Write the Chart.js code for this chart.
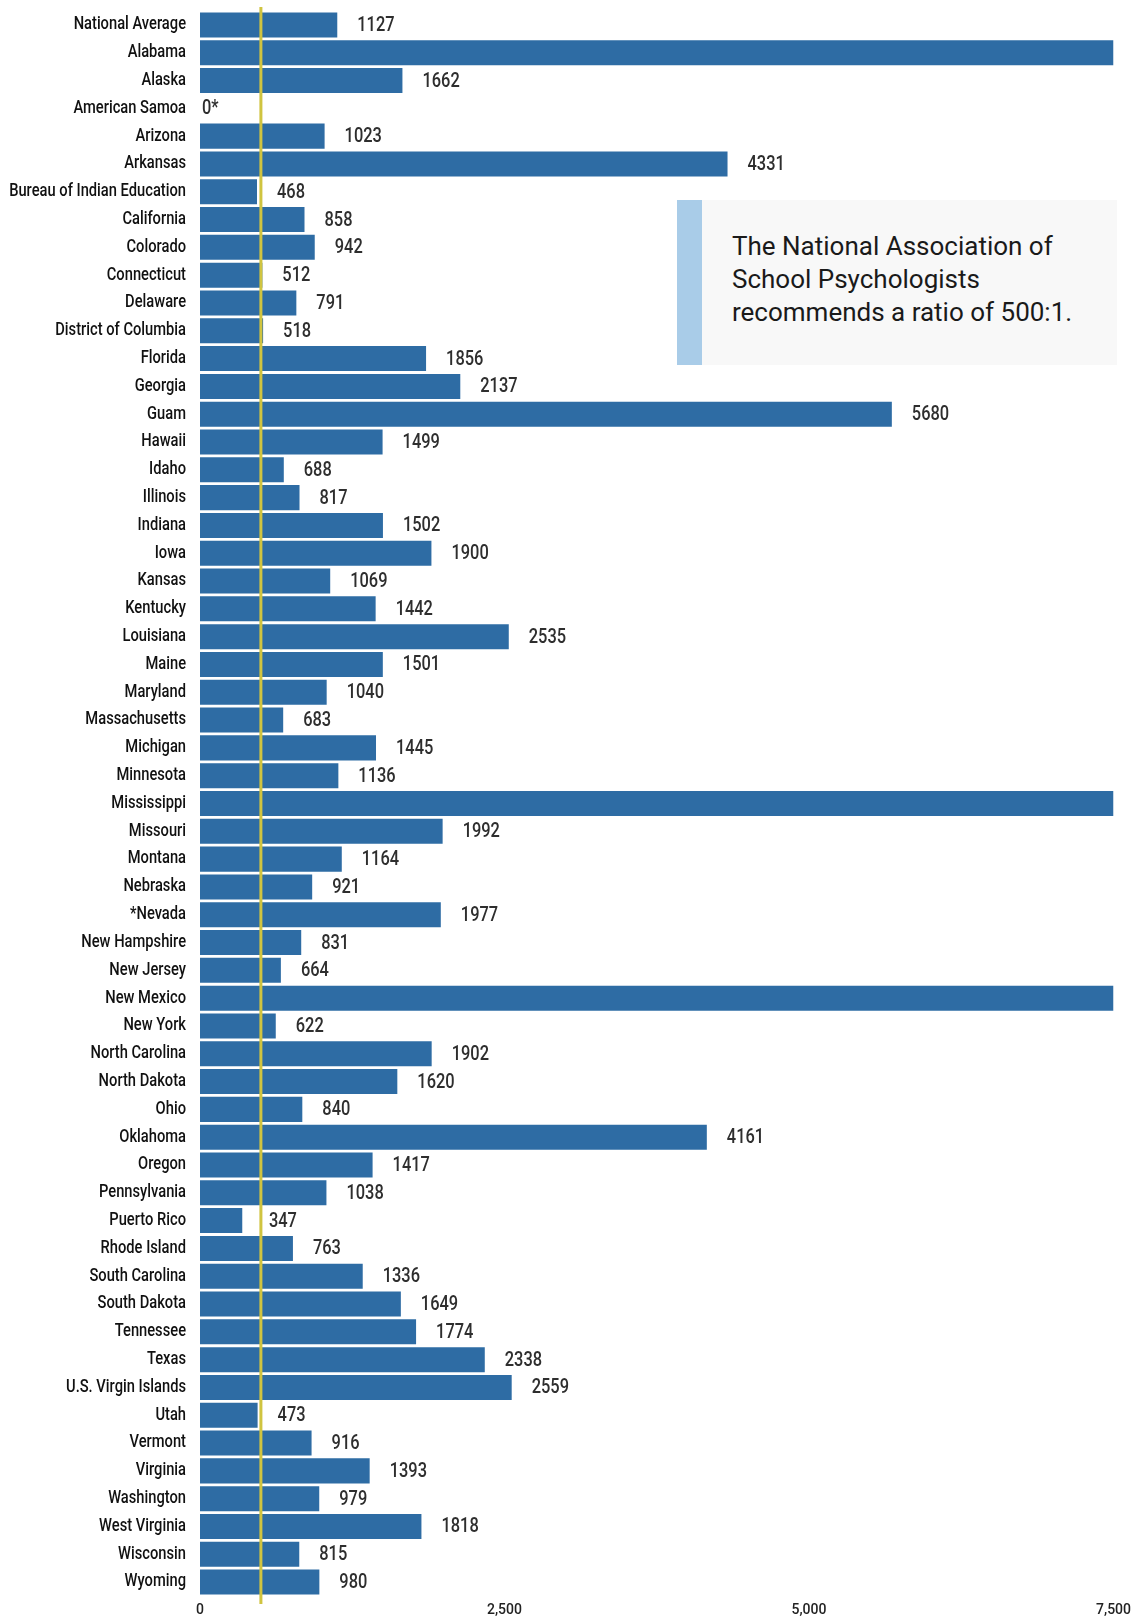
<!DOCTYPE html>
<html>
<head>
<meta charset="utf-8">
<script src="https://cdn.jsdelivr.net/npm/chart.js@4/dist/chart.umd.min.js"></script>
<style>
  body { margin: 0; background: #fff; }
  #wrap { position: relative; width: 1137px; height: 1619px; }
  #note {
    position: absolute; left: 677px; top: 200px; width: 440px; height: 165px;
    background: #f8f8f8; border-left: 25px solid #a9cce8; box-sizing: border-box;
    padding: 30px 0 0 30px;
    font-family: Roboto, "Noto Sans", sans-serif; font-size: 26px; line-height: 33px; color: #1a1a1a;
  }
</style>
</head>
<body>
<div id="wrap">
  <canvas id="chart" width="1137" height="1619"></canvas>
  <div id="note">The National Association of<br>School Psychologists<br>recommends a ratio of 500:1.</div>
</div>
<script>
// Data
const states = [
  'National Average', 'Alabama', 'Alaska', 'American Samoa', 'Arizona', 'Arkansas',
  'Bureau of Indian Education', 'California', 'Colorado', 'Connecticut', 'Delaware',
  'District of Columbia', 'Florida', 'Georgia', 'Guam', 'Hawaii', 'Idaho', 'Illinois',
  'Indiana', 'Iowa', 'Kansas', 'Kentucky', 'Louisiana', 'Maine', 'Maryland',
  'Massachusetts', 'Michigan', 'Minnesota', 'Mississippi', 'Missouri', 'Montana',
  'Nebraska', '*Nevada', 'New Hampshire', 'New Jersey', 'New Mexico', 'New York',
  'North Carolina', 'North Dakota', 'Ohio', 'Oklahoma', 'Oregon', 'Pennsylvania',
  'Puerto Rico', 'Rhode Island', 'South Carolina', 'South Dakota', 'Tennessee', 'Texas',
  'U.S. Virgin Islands', 'Utah', 'Vermont', 'Virginia', 'Washington', 'West Virginia',
  'Wisconsin', 'Wyoming'
];

// students per school psychologist (off-scale bars run to the axis end)
const ratios = [
  1127, 7500, 1662, 0, 1023, 4331,
  468, 858, 942, 512, 791,
  518, 1856, 2137, 5680, 1499, 688, 817,
  1502, 1900, 1069, 1442, 2535, 1501, 1040,
  683, 1445, 1136, 7500, 1992, 1164,
  921, 1977, 831, 664, 7500, 622,
  1902, 1620, 840, 4161, 1417, 1038,
  347, 763, 1336, 1649, 1774, 2338,
  2559, 473, 916, 1393, 979, 1818,
  815, 980
];

// text shown next to each bar ('' = no label)
const ratioLabels = [
  '1127', '', '1662', '0*', '1023', '4331',
  '468', '858', '942', '512', '791',
  '518', '1856', '2137', '5680', '1499', '688', '817',
  '1502', '1900', '1069', '1442', '2535', '1501', '1040',
  '683', '1445', '1136', '', '1992', '1164',
  '921', '1977', '831', '664', '', '622',
  '1902', '1620', '840', '4161', '1417', '1038',
  '347', '763', '1336', '1649', '1774', '2338',
  '2559', '473', '916', '1393', '979', '1818',
  '815', '980'
];

const xTicks = [0, 2500, 5000, 7500];
const recommended = 500;

const baseFont = 'Roboto, "Noto Sans", sans-serif';

// fake a condensed face by squeezing the text horizontally
function drawNarrow(ctx, text, x, y, align, squeeze) {
  ctx.save();
  ctx.textAlign = align;
  ctx.scale(squeeze, 1);
  ctx.fillText(text, x / squeeze, y);
  ctx.restore();
}

// State names on the left
const stateLabels = {
  id: 'stateLabels',
  afterDraw(chart) {
    const ctx = chart.ctx;
    const yScale = chart.scales.y;
    const right = chart.chartArea.left - 14;
    ctx.save();
    ctx.font = '500 17.5px ' + baseFont;
    ctx.fillStyle = '#111';
    ctx.textBaseline = 'middle';
    states.forEach((name, i) => {
      drawNarrow(ctx, name, right, yScale.getPixelForTick(i), 'right', 0.84);
    });
    ctx.restore();
  }
};

// Draws the value next to each bar
const valueLabels = {
  id: 'valueLabels',
  afterDatasetsDraw(chart) {
    const ctx = chart.ctx;
    const meta = chart.getDatasetMeta(0);
    const zero = chart.scales.x.getPixelForValue(0);
    const lineX = chart.scales.x.getPixelForValue(recommended);
    ctx.save();
    ctx.font = '500 20px ' + baseFont;
    ctx.fillStyle = '#2e2e2e';
    ctx.textBaseline = 'middle';
    meta.data.forEach((bar, i) => {
      const text = ratioLabels[i];
      if (!text) return;
      // keep short-bar labels clear of the yellow line
      const x = ratios[i] === 0 ? zero + 2 : Math.max(bar.x + 20, lineX + 8);
      drawNarrow(ctx, text, x, bar.y + 1, 'left', 0.82);
    });
    ctx.restore();
  }
};

// Vertical line at the recommended ratio
const recommendLine = {
  id: 'recommendLine',
  afterDatasetsDraw(chart) {
    const ctx = chart.ctx;
    const x = chart.scales.x.getPixelForValue(recommended);
    ctx.save();
    ctx.strokeStyle = '#d0c440';
    ctx.lineWidth = 3;
    ctx.beginPath();
    ctx.moveTo(x, chart.chartArea.top - 4);
    ctx.lineTo(x, chart.chartArea.bottom + 8);
    ctx.stroke();
    ctx.restore();
  }
};

const chart = new Chart(document.getElementById('chart').getContext('2d'), {
  type: 'bar',
  data: {
    labels: states,
    datasets: [{
      data: ratios,
      backgroundColor: '#2e6ca4',
      borderWidth: 0,
      categoryPercentage: 1,
      barPercentage: 0.9,
    }],
  },
  options: {
    indexAxis: 'y',
    responsive: false,
    animation: false,
    layout: { padding: { top: 11, right: 19, left: 0, bottom: 0 } },
    plugins: {
      legend: { display: false },
      tooltip: { enabled: false },
    },
    scales: {
      x: {
        min: 0,
        max: 7500,
        afterBuildTicks: (scale) => { scale.ticks = xTicks.map(v => ({ value: v })); },
        afterFit: (scale) => { scale.height = 23; },
        grid: { display: false, drawTicks: false },
        border: { display: false },
        ticks: {
          padding: 6,
          color: '#222',
          font: { family: baseFont, size: 14, weight: '500' },
          callback: (v) => v.toLocaleString('en-US'),
        },
      },
      y: {
        afterFit: (scale) => { scale.width = 200; },
        grid: { display: false, drawTicks: false },
        border: { display: false },
        ticks: { display: false, autoSkip: false },
      },
    },
  },
  plugins: [valueLabels, recommendLine, stateLabels],
});
</script>
</body>
</html>
